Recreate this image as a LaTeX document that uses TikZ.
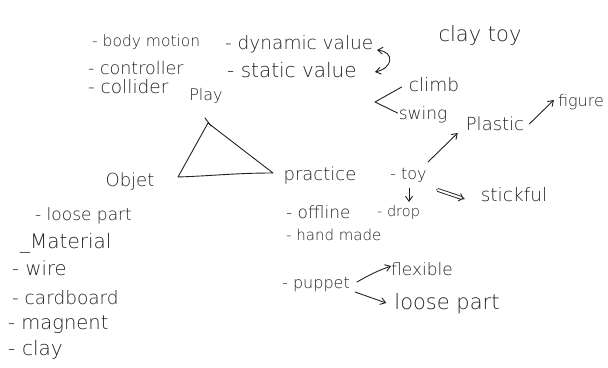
\documentclass[tikz,border=0pt]{standalone}
\usepackage{fontspec}
\setsansfont{DejaVu Sans ExtraLight}
\usetikzlibrary{arrows.meta}
\definecolor{ink}{HTML}{222222}
\begin{document}
\begin{tikzpicture}[x=1pt,y=-1pt,
  hand/.style={font=\sffamily\fontsize{#1}{#1}\selectfont, inner sep=0pt, text=ink},
  hand/.default=16,
  ln/.style={draw=ink, line width=0.9pt, line cap=round, line join=round},
  arr/.style={ln, -{Straight Barb[length=5pt,width=7pt]}}]
\useasboundingbox (0,0) rectangle (608,367);
% top left lists
\node[hand=15.5,anchor=west] (body) at (92,42) {- body motion};
\node[hand=17.5,anchor=west] (ctrl) at (88,68) {- controller};
\node[hand=18.5,anchor=west] (coll) at (88,87) {- collider};
\node[hand=18.5,anchor=west] (dyn) at (225,44) {- dynamic value};
\node[hand=20,anchor=west] (stat) at (227,70) {- static value};
\node[hand=16] (play) at (206,96) {Play};
% top right
\node[hand=21] (claytoy) at (480,36) {clay toy};
\node[hand=18.5] (climb) at (434,85) {climb};
\node[hand=17] (swing) at (423,115) {swing};
\node[hand=18] (plastic) at (495,124) {Plastic};
\node[hand=16] (figure) at (581,102) {figure};
% triangle labels
\node[hand=18] (objet) at (130,182) {Objet};
\node[hand=18] (practice) at (320,176) {practice};
% practice branch
\node[hand=16,anchor=west] (toy) at (390,175) {- toy};
\node[hand=14.5,anchor=west] (drop) at (377,212) {- drop};
\node[hand=18.5] (stick) at (514,195) {stickful};
\node[hand=17,anchor=west] (off) at (286,212) {- offline};
\node[hand=15,anchor=west] (hand) at (286,235) {- hand made};
% objet list
\node[hand=17,anchor=west] (loose1) at (35,216) {- loose part};
\node[hand=20,anchor=west] (mat) at (20,243) {\_Material};
\node[hand=19.5,anchor=west] (wire) at (12,268) {-\,\,wire};
\node[hand=18.5,anchor=west] (card) at (12,298) {- cardboard};
\node[hand=19.5,anchor=west] (mag) at (8,325) {- magnent};
\node[hand=20,anchor=west] (clay) at (8,350) {-\,\,clay};
% puppet
\node[hand=16,anchor=west] (puppet) at (282,285) {- puppet};
\node[hand=17] (flex) at (422,269) {flexible};
\node[hand=21] (loose2) at (447,304) {loose part};
% connectors
\draw[ln,{Straight Barb[length=5pt,width=7pt]}-{Straight Barb[length=5pt,width=7pt]}] ([shift={(152,6)}]dyn.west) .. controls +(18,2) and +(18,-4) .. ([shift={(148,2)}]stat.west);
\coordinate (lt) at (375,102);
\draw[ln] ([shift={(-7,2)}]climb.west) -- (lt) -- ([shift={(-1,-2)}]swing.west);
\coordinate (tA) at (208,123);
\coordinate (tB) at (178,177);
\coordinate (tC) at (273,173);
\draw[ln] (tA) -- (tB) to[out=2,in=180] (tC) -- cycle;
\draw[ln] (205,118) -- (211,126);
\draw[arr] ([shift={(38,-13)}]toy.west) -- ([shift={(-8,9)}]plastic.west);
\draw[arr] ([shift={(5,0)}]plastic.east) -- ([shift={(-4,-2)}]figure.west);
\draw[arr] ([shift={(19,13)}]toy.west) -- ([shift={(32,-10)}]drop.west);
\draw[ln,double,double distance=2pt,-{Implies}] ([shift={(48,15)}]toy.west) -- ([shift={(-16,4)}]stick.west);
\draw[arr] ([shift={(7,-3)}]puppet.east) to[out=30,in=200] ([shift={(0,-3)}]flex.west);
\draw[arr] ([shift={(5,7)}]puppet.east) -- ([shift={(-8,-1)}]loose2.west);
\end{tikzpicture}
\end{document}
